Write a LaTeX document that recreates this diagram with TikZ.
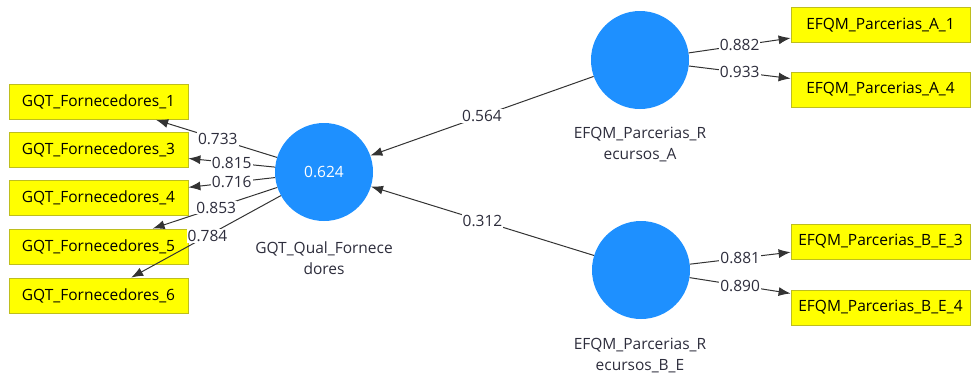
\documentclass[tikz,border=0pt]{standalone}
\usepackage{fontspec}
\setmainfont{Open Sans}
\usetikzlibrary{arrows.meta}
\definecolor{lvblue}{RGB}{30,144,255}
\definecolor{indfill}{RGB}{255,255,0}
\definecolor{indborder}{RGB}{190,190,30}
\definecolor{txt}{RGB}{45,45,60}
\begin{document}
\begin{tikzpicture}[x=1pt,y=-1pt,
 ind/.style={draw=indborder, fill=indfill, line width=0.8pt, minimum width=179pt, minimum height=35pt, inner sep=0pt, font=\fontsize{15.5}{18}\selectfont, text=black},
 lv/.style={circle, fill=lvblue, minimum size=98pt, inner sep=0pt, text=white, font=\fontsize{15.5}{18}\selectfont},
 lvlabel/.style={align=center, font=\fontsize{15.5}{21}\selectfont, text=txt},
 conn/.style={draw=black!80, line width=1pt, -{Latex[length=12pt,width=9pt]}},
 wt/.style={fill=white, inner sep=1pt, font=\fontsize{15.5}{17}\selectfont, text=txt}]
\useasboundingbox (0,0) rectangle (971,376);

% latent variables
\node[lv] (gqt) at (324,172) {0.624};
\node[lv] (efa) at (640,60) {};
\node[lv] (efb) at (641,270) {};
\node[lvlabel] (gqtl) at (324,258) {GQT\_Qual\_Fornece\\dores};
\node[lvlabel] (efal) at (640,144) {EFQM\_Parcerias\_R\\ecursos\_A};
\node[lvlabel] (efbl) at (640,355.5) {EFQM\_Parcerias\_R\\ecursos\_B\_E};

% indicators
\node[ind] (f1) at (98.5,102) {GQT\_Fornecedores\_1};
\node[ind] (f3) at (98.5,149.5) {GQT\_Fornecedores\_3};
\node[ind] (f4) at (98.5,197.5) {GQT\_Fornecedores\_4};
\node[ind] (f5) at (98.5,246.5) {GQT\_Fornecedores\_5};
\node[ind] (f6) at (98.5,295.5) {GQT\_Fornecedores\_6};
\node[ind] (a1) at (880.5,25) {EFQM\_Parcerias\_A\_1};
\node[ind] (a4) at (880.5,89.5) {EFQM\_Parcerias\_A\_4};
\node[ind] (b3) at (880.5,241.5) {EFQM\_Parcerias\_B\_E\_3};
\node[ind] (b4) at (880.5,307.5) {EFQM\_Parcerias\_B\_E\_4};

% outer loadings
\draw[conn] (gqt) -- node[wt,pos=0.49] {0.733} (f1);
\draw[conn] (gqt) -- node[wt,pos=0.5] {0.815} (f3);
\draw[conn] (gqt) -- node[wt,pos=0.5] {0.716} (f4);
\draw[conn] (gqt) -- node[wt,pos=0.49] {0.853} (f5);
\draw[conn] (gqt) -- node[wt,pos=0.49] {0.784} (f6);
\draw[conn] (efa) -- node[wt] {0.882} (a1);
\draw[conn] (efa) -- node[wt] {0.933} (a4);
\draw[conn] (efb) -- node[wt] {0.881} (b3);
\draw[conn] (efb) -- node[wt] {0.890} (b4);

% path coefficients
\draw[conn] (efa) -- node[wt] {0.564} (gqt);
\draw[conn] (efb) -- node[wt] {0.312} (gqt);
\end{tikzpicture}
\end{document}
